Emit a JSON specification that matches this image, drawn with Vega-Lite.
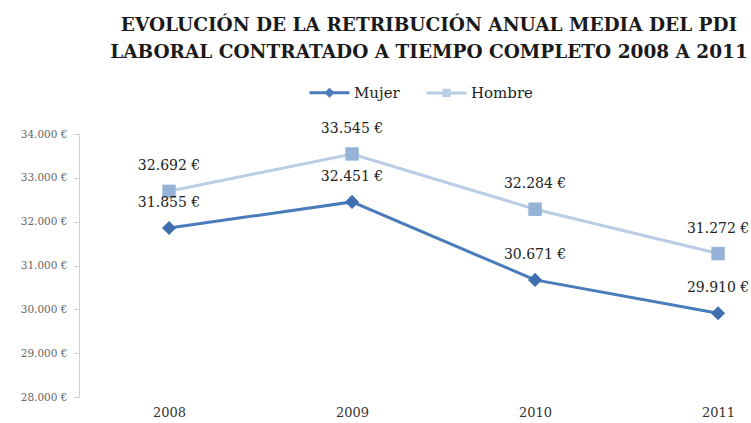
{
  "$schema": "https://vega.github.io/schema/vega-lite/v6.json",
  "width": 672,
  "height": 263,
  "autosize": "none",
  "padding": {"left": 79, "top": 134, "right": 0, "bottom": 26},
  "background": "white",
  "title": {
    "text": ["EVOLUCIÓN DE LA RETRIBUCIÓN ANUAL MEDIA DEL PDI", "LABORAL CONTRATADO A TIEMPO COMPLETO 2008 A 2011"],
    "font": "DejaVu Serif",
    "fontSize": 18.5,
    "fontWeight": "bold",
    "color": "#1a1a1a",
    "lineHeight": 27,
    "anchor": "middle",
    "frame": "group",
    "dx": 14,
    "offset": 10
  },
  "config": {
    "view": {"stroke": null},
    "locale": {"number": {"decimal": ",", "thousands": ".", "grouping": [3], "currency": ["", " €"]}}
  },
  "data": {
    "values": [
      {"year": 2008, "sexo": "Mujer", "valor": 31855},
      {"year": 2009, "sexo": "Mujer", "valor": 32451},
      {"year": 2010, "sexo": "Mujer", "valor": 30671},
      {"year": 2011, "sexo": "Mujer", "valor": 29910},
      {"year": 2008, "sexo": "Hombre", "valor": 32692},
      {"year": 2009, "sexo": "Hombre", "valor": 33545},
      {"year": 2010, "sexo": "Hombre", "valor": 32284},
      {"year": 2011, "sexo": "Hombre", "valor": 31272}
    ]
  },
  "encoding": {
    "x": {
      "field": "year", "type": "quantitative",
      "scale": {"domain": [2007.508, 2011.18], "nice": false, "zero": false},
      "axis": {"title": null, "values": [2008, 2009, 2010, 2011], "format": "d", "domain": false, "ticks": false, "grid": false, "labelFont": "DejaVu Serif", "labelFontSize": 13, "labelColor": "#333", "labelPadding": 9, "labelFlush": false}
    },
    "y": {
      "field": "valor", "type": "quantitative",
      "scale": {"domain": [28000, 34000], "nice": false, "zero": false},
      "axis": {"title": null, "values": [28000, 29000, 30000, 31000, 32000, 33000, 34000], "format": "$,d", "grid": false, "domainColor": "#d0d0d0", "tickColor": "#c8c8c8", "tickSize": 5, "labelFont": "DejaVu Serif", "labelFontSize": 10.5, "labelColor": "#666", "labelPadding": 7}
    }
  },
  "layer": [
    {
      "mark": {"type": "line", "strokeWidth": 3},
      "encoding": {
        "color": {
          "field": "sexo", "type": "nominal",
          "scale": {"domain": ["Mujer", "Hombre"], "range": ["#4a7cbb", "#b9cde5"]},
          "legend": {
            "title": null, "orient": "none", "legendX": 229, "legendY": -63, "direction": "horizontal",
            "labelFont": "DejaVu Serif", "labelFontSize": 15, "labelColor": "#222",
            "symbolSize": 1600, "symbolStrokeWidth": 3, "columnPadding": 20, "labelOffset": 3,
            "encode": {"symbols": {"update": {
              "shape": {"signal": "datum.value === 'Mujer' ? 'M-1,0H1M0,-0.15L0.15,0L0,0.15L-0.15,0Z' : 'M-1,0H1M-0.13,-0.13H0.13V0.13H-0.13Z'"},
              "fill": {"signal": "datum.value === 'Mujer' ? '#3f6fae' : '#95b3d7'"},
              "stroke": {"signal": "datum.value === 'Mujer' ? '#4a7cbb' : '#b9cde5'"},
              "strokeWidth": {"value": 3},
              "opacity": {"value": 1}
            }}}
          }
        }
      }
    },
    {
      "transform": [{"filter": "datum.sexo === 'Mujer'"}],
      "mark": {"type": "point", "filled": true, "opacity": 1, "shape": "diamond", "size": 200, "color": "#3f6fae"}
    },
    {
      "transform": [{"filter": "datum.sexo === 'Hombre'"}],
      "mark": {"type": "point", "filled": true, "opacity": 1, "shape": "square", "size": 180, "color": "#95b3d7"}
    },
    {
      "mark": {"type": "text", "dy": -25, "font": "DejaVu Serif", "fontSize": 14, "color": "#222"},
      "encoding": {
        "text": {"field": "valor", "type": "quantitative", "format": "$,d"}
      }
    }
  ]
}
